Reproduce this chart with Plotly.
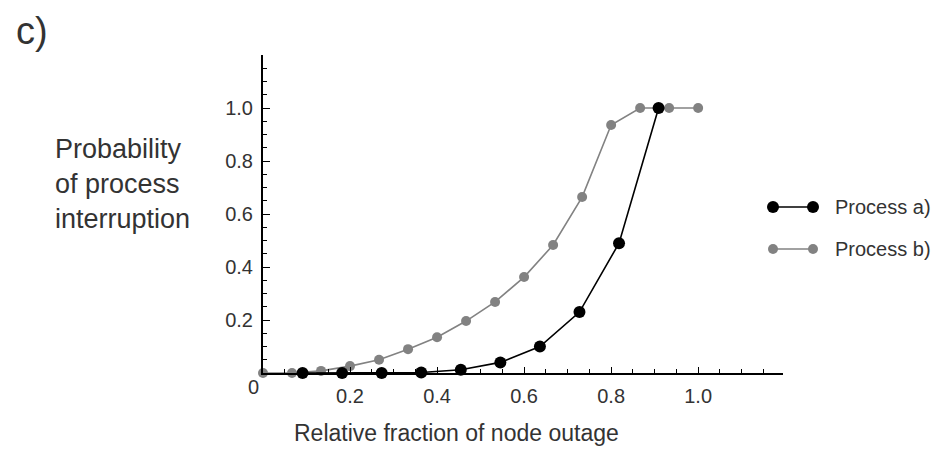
import plotly.graph_objects as go

# Process a) (black): x = k/11
xa = [1/11, 2/11, 3/11, 4/11, 5/11, 6/11, 7/11, 8/11, 9/11, 10/11]
ya = [0.0, 0.0, 0.0, 0.002, 0.012, 0.04, 0.10, 0.23, 0.49, 1.0]

# Process b) (grey): x = k/15
xb = [k/15 for k in range(16)]
yb = [0.0, 0.0, 0.008, 0.026, 0.05, 0.09, 0.135, 0.196, 0.268, 0.362, 0.483,
      0.664, 0.936, 1.0, 1.0, 1.0]

xticks = [0.2, 0.4, 0.6, 0.8, 1.0]
xticklabels = ["0.2", "0.4", "0.6", "0.8", "1.0"]
yticks = [0.2, 0.4, 0.6, 0.8, 1.0]
yticklabels = ["0.2", "0.4", "0.6", "0.8", "1.0"]
series_names = ["Process a)", "Process b)"]

BLACK = "#000000"
GREY = "#828282"
TXT = "#333333"
FONT = "Liberation Sans, Arial, sans-serif"

fig = go.Figure()
fig.add_trace(go.Scatter(x=xb, y=yb, mode="lines+markers", name=series_names[1],
                         line=dict(color=GREY, width=1.6),
                         marker=dict(color=GREY, size=10, symbol="circle"),
                         cliponaxis=False))
fig.add_trace(go.Scatter(x=xa, y=ya, mode="lines+markers", name=series_names[0],
                         line=dict(color=BLACK, width=1.6),
                         marker=dict(color=BLACK, size=12, symbol="circle"),
                         cliponaxis=False))

W, H = 944, 449
L, R, T, B = 263, 161, 55, 76
pw, ph = W - L - R, H - T - B

def px(x):
    return (x - L) / pw

def py(y):
    return (H - B - y) / ph

shapes = []
annotations = []
legend_rows = [(207, BLACK, 6, series_names[0]), (249, GREY, 5, series_names[1])]
for yy, col, r, name in legend_rows:
    shapes.append(dict(type="line", xref="paper", yref="paper",
                       x0=px(773), x1=px(813), y0=py(yy), y1=py(yy),
                       line=dict(color=col, width=1.6)))
    for cx in (773, 813):
        shapes.append(dict(type="circle", xref="paper", yref="paper",
                           x0=px(cx - r), x1=px(cx + r), y0=py(yy - r), y1=py(yy + r),
                           fillcolor=col, line=dict(color=col, width=0)))
    annotations.append(dict(text=name, xref="paper", yref="paper",
                            x=px(833), y=py(yy), xanchor="left", yanchor="middle",
                            showarrow=False, font=dict(family=FONT, size=20, color=TXT)))

annotations.append(dict(text="0", xref="paper", yref="paper", x=px(253), y=py(387),
                        xanchor="center", yanchor="middle", showarrow=False,
                        font=dict(family=FONT, size=20, color=TXT)))
annotations.append(dict(text="c)", xref="paper", yref="paper", x=px(14), y=py(31),
                        xanchor="left", yanchor="middle", showarrow=False,
                        font=dict(family=FONT, size=38, color=TXT)))
annotations.append(dict(text="Probability<br>of process<br>interruption", xref="paper",
                        yref="paper", x=px(53), y=py(184), xanchor="left",
                        yanchor="middle", align="left", showarrow=False,
                        font=dict(family=FONT, size=27, color=TXT)))
annotations.append(dict(text="Relative fraction of node outage", xref="paper",
                        yref="paper", x=px(292), y=py(433), xanchor="left",
                        yanchor="middle", showarrow=False,
                        font=dict(family=FONT, size=23, color=TXT)))

fig.update_layout(
    width=W, height=H,
    margin=dict(l=L, r=R, t=T, b=B),
    paper_bgcolor="white", plot_bgcolor="white",
    showlegend=False,
    shapes=shapes, annotations=annotations,
    xaxis=dict(range=[0, 1.195], showgrid=False, zeroline=False, showline=True,
               linecolor=BLACK, linewidth=2, ticks="inside", ticklen=6,
               tickwidth=1.3, tickcolor=BLACK, tickvals=xticks, ticktext=xticklabels,
               tickfont=dict(family=FONT, size=20, color=TXT), ticklabelstandoff=4,
               minor=dict(dtick=0.05, tick0=0, ticks="inside", ticklen=4,
                          tickwidth=1.2, tickcolor=BLACK),
               fixedrange=True),
    yaxis=dict(range=[0, 1.2], showgrid=False, zeroline=False, showline=True,
               linecolor=BLACK, linewidth=2, ticks="inside", ticklen=7,
               tickwidth=1.3, tickcolor=BLACK, tickvals=yticks, ticktext=yticklabels,
               tickfont=dict(family=FONT, size=20, color=TXT), ticklabelstandoff=4,
               minor=dict(dtick=0.05, tick0=0, ticks="inside", ticklen=4,
                          tickwidth=1.2, tickcolor=BLACK),
               fixedrange=True),
)

fig.write_html("out.html", config={"displayModeBar": False},
               post_script="document.body.style.margin='0';")
